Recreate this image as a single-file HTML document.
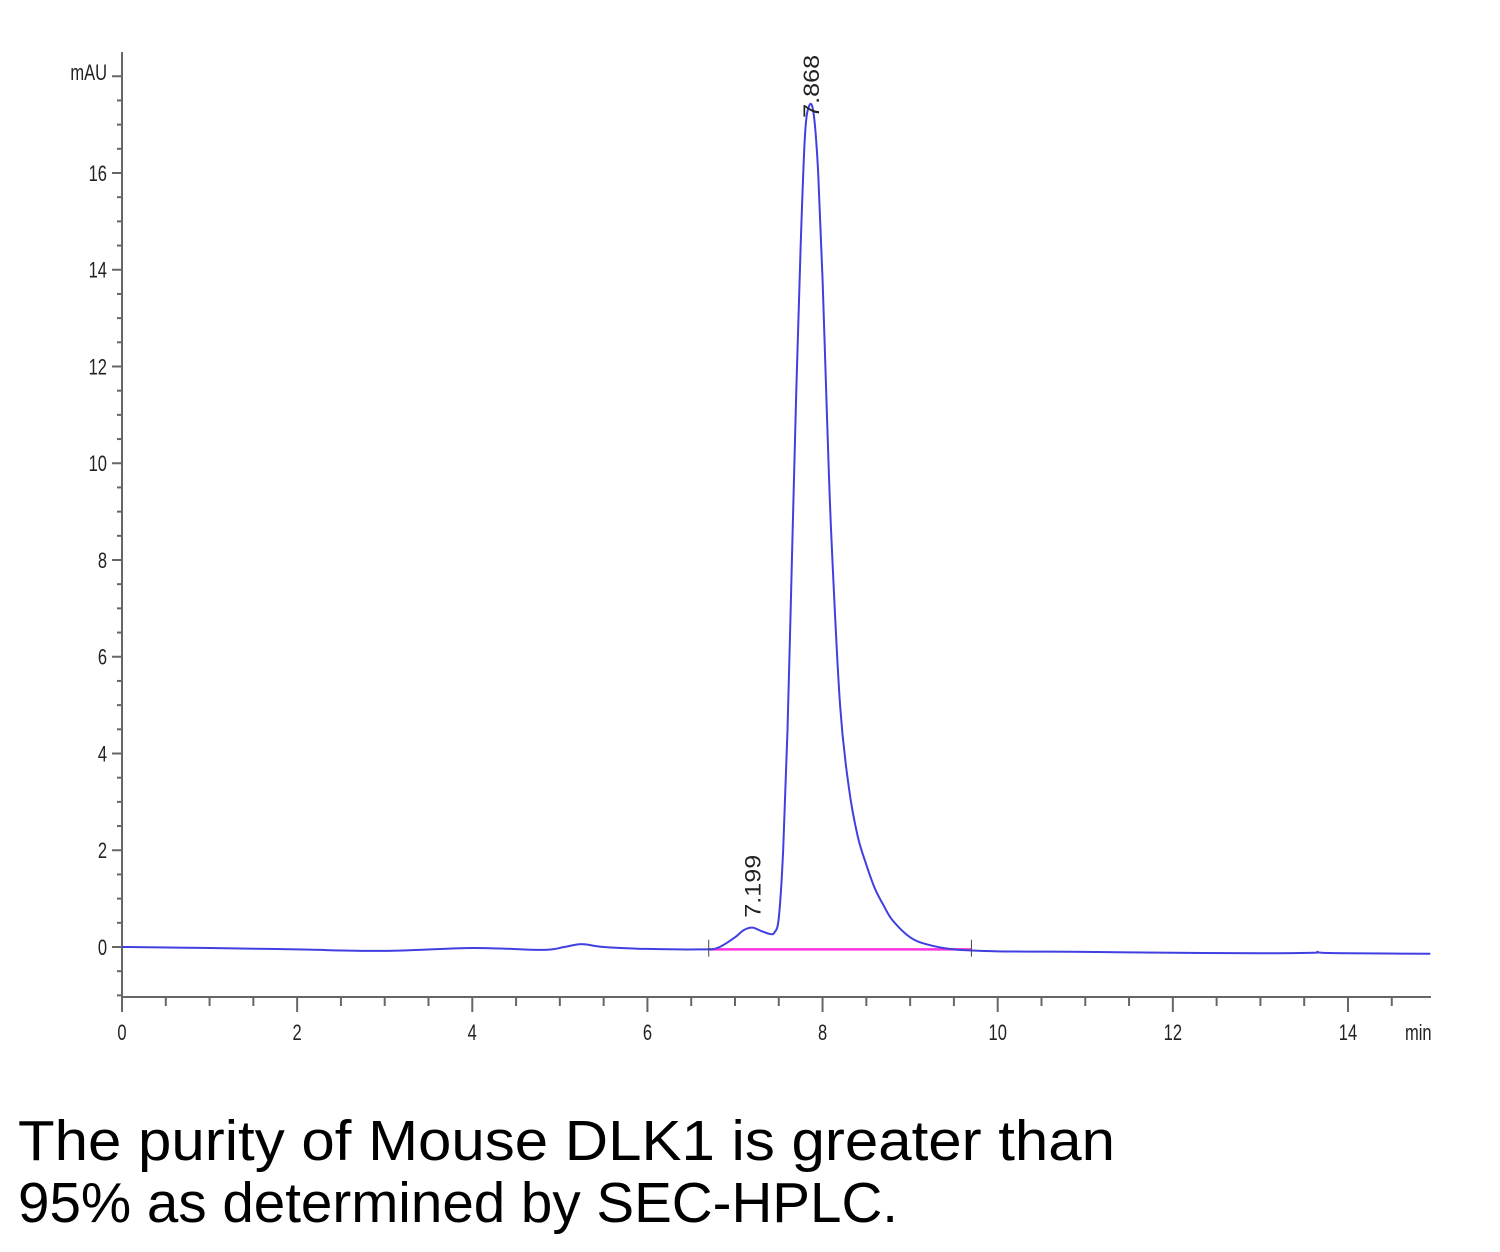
<!DOCTYPE html>
<html><head><meta charset="utf-8"><style>body{margin:0;background:#fff}svg{display:block}</style></head>
<body>
<svg id="chart" width="1500" height="1252" viewBox="0 0 1500 1252" xmlns="http://www.w3.org/2000/svg" font-family="Liberation Sans, sans-serif">
<g id="axes"></g>
<g id="series"></g>
<text x="18" y="1160" font-size="57" textLength="1097" lengthAdjust="spacingAndGlyphs" fill="#000">The purity of Mouse DLK1 is greater than</text>
<text x="18" y="1222" font-size="57" textLength="880" lengthAdjust="spacingAndGlyphs" fill="#000">95% as determined by SEC-HPLC.</text>
</svg>
<script>
const times=[0,1,2,3,4,4.8,5.05,5.25,5.5,6,6.6,6.8,7.0,7.1,7.2,7.3,7.4,7.45,7.5,7.55,7.6,7.65,7.7,7.75,7.8,7.85,7.9,7.95,8.0,8.05,8.1,8.2,8.3,8.4,8.5,8.6,8.7,8.8,9.0,9.2,9.5,10,11,12,13,13.6,13.65,13.7,14,14.94];
const signal=[0,-0.02,-0.05,-0.08,-0.02,-0.06,0.0,0.06,0.0,-0.04,-0.05,-0.02,0.2,0.35,0.4,0.33,0.27,0.3,0.6,2.0,4.5,8.0,11.5,14.5,16.8,17.4,17.2,16.0,13.8,11.0,8.5,5.0,3.3,2.3,1.7,1.2,0.85,0.55,0.2,0.05,-0.05,-0.09,-0.1,-0.12,-0.13,-0.12,-0.1,-0.12,-0.13,-0.14];
const baselineT=[6.7,9.7];
const baselineV=[-0.05,-0.05];
const peakTimes=[7.199,7.868];
const peakLabels=["7.199","7.868"];
const peakHeights=[0.42,17.45];
const yTicks=[0,2,4,6,8,10,12,14,16];
const xTicks=[0,2,4,6,8,10,12,14];

const NS="http://www.w3.org/2000/svg";
const X=t=>122+t*87.57;
const Y=v=>947-v*48.375;
const labelOffsets=[-9,15];
function mk(tag,attrs,parent){const e=document.createElementNS(NS,tag);for(const k in attrs)e.setAttribute(k,attrs[k]);parent.appendChild(e);return e;}
const axes=document.getElementById('axes'),series=document.getElementById('series');
const ax=mk('line',{x1:122,y1:52,x2:122,y2:997,stroke:'#666','stroke-width':2},axes);


const xa=mk('line',{x1:122,y1:997,x2:1431,y2:997,stroke:'#666','stroke-width':2},axes);


for(let v=-1;v<=18.01;v+=0.5){const y=Y(v);const major=Math.abs(v-Math.round(v/2)*2)<1e-6;
 const tk=mk('line',{x1:major?112:117,y1:y,x2:122,y2:y,stroke:'#666','stroke-width':2},axes);
 
 }
yTicks.forEach(v=>{const t=mk('text',{x:107,y:Y(v)+8,'font-size':22,'text-anchor':'end',fill:'#222',transform:`scale(0.75,1) translate(${107/3},0)`},axes);t.textContent=v;
 
 });
const mu=mk('text',{x:107,y:Y(18)+4,'font-size':22,'text-anchor':'end',fill:'#222',transform:`scale(0.75,1) translate(${107/3},0)`},axes);mu.textContent='mAU';


for(let t=0;t<=14.9;t+=0.5){const x=X(t);const major=Math.abs(t-Math.round(t/2)*2)<1e-6;
 const tk=mk('line',{x1:x,y1:997,x2:x,y2:major?1012:1006,stroke:'#666','stroke-width':2},axes);
 
 }
xTicks.forEach(v=>{const t=mk('text',{x:X(v)/0.75,y:1040,'font-size':22,'text-anchor':'middle',fill:'#222',transform:'scale(0.75,1)'},axes);t.textContent=v;
 
 });
const mn=mk('text',{x:1405/0.75,y:1040,'font-size':22,fill:'#222',transform:'scale(0.75,1)'},axes);mn.textContent='min';


function pathFrom(ts,vs){const p=ts.map((t,i)=>[X(t),Y(vs[i])]);let d=`M${p[0][0]},${p[0][1]}`;
 for(let i=0;i<p.length-1;i++){const p0=p[Math.max(0,i-1)],p1=p[i],p2=p[i+1],p3=p[Math.min(p.length-1,i+2)];
 d+=` C${p1[0]+(p2[0]-p0[0])/6},${p1[1]+(p2[1]-p0[1])/6} ${p2[0]-(p3[0]-p1[0])/6},${p2[1]-(p3[1]-p1[1])/6} ${p2[0]},${p2[1]}`;}return d;}
const bl=mk('path',{d:pathFrom(baselineT,baselineV),stroke:'#ff33dd','stroke-width':2.5,fill:'none'},series);


const tr=mk('path',{d:pathFrom(times,signal),stroke:'#4040e0','stroke-width':2,fill:'none'},series);


[[6.7],[9.7]].forEach(([t])=>{const m=mk('line',{x1:X(t),y1:Y(0.15),x2:X(t),y2:Y(-0.2),stroke:'#444','stroke-width':1},series);
 
 });
peakTimes.forEach((t,i)=>{const x=X(t)+8,y=Y(peakHeights[i])+labelOffsets[i];
 const l=mk('text',{x:x,y:y,'font-size':22,fill:'#222',textLength:63,lengthAdjust:'spacingAndGlyphs',transform:`rotate(-90 ${x} ${y})`},series);l.textContent=peakLabels[i];
 
 });
</script>
</body></html>
